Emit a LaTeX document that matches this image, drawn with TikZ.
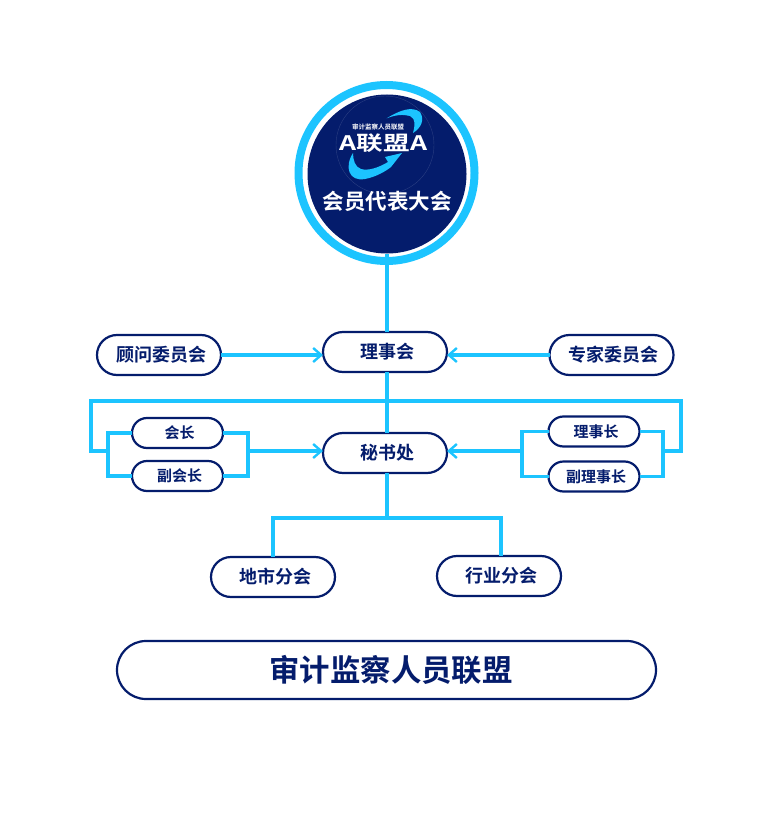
\documentclass[tikz,border=0pt]{standalone}
\usepackage{fontspec}
\setmainfont{Noto Sans CJK SC Bold}
\usepackage{tikz}
\usetikzlibrary{arrows.meta, shapes.misc}
\definecolor{navy}{HTML}{041C6C}
\definecolor{sky}{HTML}{1CC4FF}
\tikzstyle{block} = [rounded rectangle, draw=navy, line width=2.2, fill=white, text=navy,
                 inner sep=0, outer sep=0, font=\fontsize{18}{18}\selectfont,
                 minimum width=124, minimum height=40,
                 execute at begin node={\hspace{4pt}}]
\tikzstyle{small} = [block, font=\fontsize{15}{15}\selectfont,
                 minimum width=91, minimum height=30,
                 execute at begin node={\hspace{0pt}}]
\tikzstyle{branch} = [line width=3.05, draw=sky]
\tikzstyle{feed} = [branch, -{Straight Barb[length=8,width=14,line width=2.4]}]

\begin{document}
\begin{tikzpicture}[x=1pt, y=-1pt]
\useasboundingbox (0,0) rectangle (774,829);

%circle at the top
\node [circle, draw=sky, line width=8, fill=white, minimum size=176, inner sep=0, outer sep=0] at (386.5,173) (ring) {};
\node [circle, fill=navy, minimum size=159, inner sep=0, outer sep=0] at (387,174) (hub) {};
\draw [navy!85!white, line width=0.4] (385,145) circle (49);
\fill [sky] (386.7,118.3) .. controls (400,110) and (412,106) .. (420,112)
	.. controls (425,120) and (421,128) .. (413,133)
	.. controls (415,125) and (416,119) .. (410,116)
	.. controls (403,114) and (395,115) .. (386.7,118.3) -- cycle;
\fill [sky] (353,153) .. controls (344,167) and (349,182) .. (365,179)
	.. controls (376,177) and (386,171) .. (391,167) -- (402,153) -- (385,157) -- (388,162)
	.. controls (378,168) and (368,171) .. (361,169)
	.. controls (355,167) and (353,160) .. (353,153) -- cycle;
\node [text=white, inner sep=0, font=\fontsize{6.5}{6.5}\selectfont] at (378,127) (slogan) {审计监察人员联盟};
\node [text=white, inner sep=0, font=\fontsize{20}{20}\selectfont] at (383.5,143.5) (mark) {\scalebox{1.33}[1]{A联盟A}};
\node [text=white, font=\fontsize{21.5}{21}\selectfont] at (387,201.5) (hubtitle) {会员代表大会};

\node [block] at (159,355) (guwen) {顾问委员会};
\node [block] at (385,352) (lishi) {理事会};
\node [block] at (611.5,355) (zhuanjia) {专家委员会};
\node [block] at (385,453) (mishu) {秘书处};

\node [small] at (177.5,433) (huizhang) {\raisebox{-2pt}{会长}};
\node [small] at (177.5,476) (fuhui) {\raisebox{-2pt}{副会长}};
\node [small] at (594,431.5) (lizhang) {\raisebox{-2pt}{理事长}};
\node [small] at (594,476.5) (fuli) {\raisebox{-2pt}{副理事长}};

\node [block] at (273,577) (dishi) {地市分会};
\node [block] at (499,576) (hangye) {行业分会};
\node [block, minimum width=539, minimum height=58, font=\fontsize{30.4}{30}\selectfont,
	execute at begin node={\hspace{5pt}}] at (386.5,670) (lianmeng) {审计监察人员联盟};

\coordinate (topjoin) at (387,401);
\coordinate (lowjoin) at (387,518);
\coordinate (leftout) at (108,451);
\coordinate (leftin) at (248,451);
\coordinate (rightin) at (522,451);
\coordinate (rightout) at (663,451);
\coordinate (leftloop) at (91,451);
\coordinate (rightloop) at (681,451);

\path [branch] (hub.south) -- (hub.south |- lishi.north);
\path [branch] (hub.south |- lishi.south) -- (hub.south |- mishu.north);
\path [branch] (hub.south |- mishu.south) -- (lowjoin);
\path [branch] (lowjoin) -| (dishi.north);
\path [branch] (lowjoin) -| ([xshift=2]hangye.north);

\path [branch] (topjoin) -| (leftloop) -- (leftout);
\path [branch] (topjoin) -| (rightloop) -- (rightout);

\path [branch] (huizhang.west) -| (leftout);
\path [branch] (fuhui.west) -| (leftout);
\path [branch] (huizhang.east) -| (leftin);
\path [branch] (fuhui.east) -| (leftin);
\path [branch] (lizhang.west) -| (rightin);
\path [branch] (fuli.west) -| (rightin);
\path [branch] (lizhang.east) -| (rightout);
\path [branch] (fuli.east) -| (rightout);

\path [feed] (guwen.east) -- (lishi.west |- guwen.east);
\path [feed] (zhuanjia.west) -- (lishi.east |- zhuanjia.west);
\path [feed] (leftin) -- (mishu.west |- leftin);
\path [feed] (rightin) -- (mishu.east |- rightin);

\end{tikzpicture}
\end{document}
